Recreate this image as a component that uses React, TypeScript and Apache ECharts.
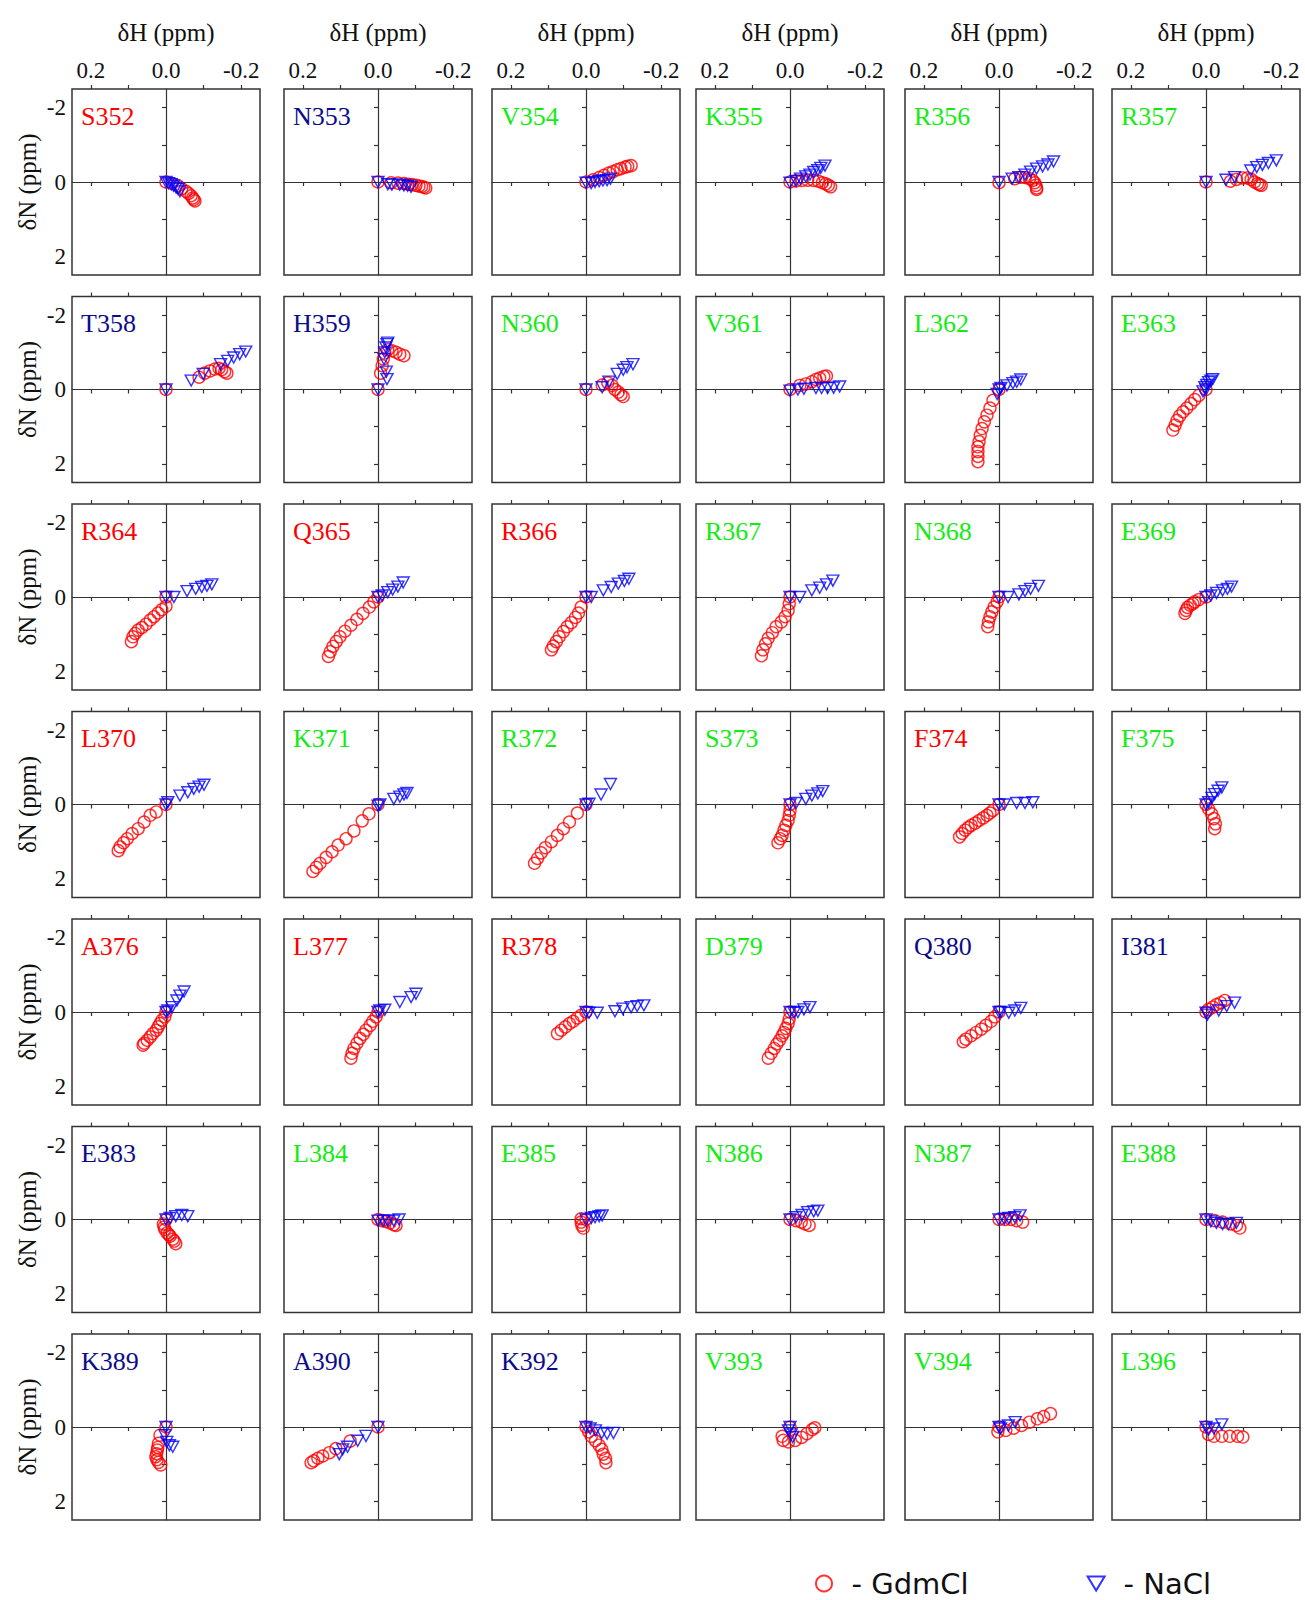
import { useEffect, useRef } from "react";
import * as echarts from "echarts";

// residues, row by row (6 per row)
const residues = [
  "S352", "N353", "V354", "K355", "R356", "R357",
  "T358", "H359", "N360", "V361", "L362", "E363",
  "R364", "Q365", "R366", "R367", "N368", "E369",
  "L370", "K371", "R372", "S373", "F374", "F375",
  "A376", "L377", "R378", "D379", "Q380", "I381",
  "E383", "L384", "E385", "N386", "N387", "E388",
  "K389", "A390", "K392", "V393", "V394", "L396",
];

// r = red, b = navy, g = green
const labelColors = [
  "r", "b", "g", "g", "g", "g",
  "b", "b", "g", "g", "g", "g",
  "r", "r", "r", "g", "g", "g",
  "r", "g", "g", "g", "r", "g",
  "r", "r", "r", "g", "b", "b",
  "b", "g", "g", "g", "g", "g",
  "b", "b", "b", "g", "g", "g",
];

// [δH, δN] in ppm, GdmCl titration
const gdmcl: number[][][] = [
  [[0, 0], [-0.016, 0.04], [-0.032, 0.1], [-0.042, 0.18], [-0.053, 0.25], [-0.06, 0.31], [-0.067, 0.37], [-0.071, 0.43], [-0.074, 0.47], [-0.077, 0.51]],
  [[0, 0], [-0.035, 0.02], [-0.053, 0.03], [-0.069, 0.04], [-0.08, 0.06], [-0.09, 0.07], [-0.101, 0.09], [-0.109, 0.11], [-0.116, 0.12], [-0.122, 0.14], [-0.127, 0.16]],
  [[0, 0], [-0.019, -0.06], [-0.035, -0.12], [-0.048, -0.18], [-0.061, -0.24], [-0.072, -0.28], [-0.083, -0.33], [-0.093, -0.36], [-0.104, -0.4], [-0.111, -0.42], [-0.12, -0.44]],
  [[0, 0], [-0.016, -0.03], [-0.032, -0.04], [-0.047, -0.05], [-0.063, -0.04], [-0.076, -0.02], [-0.086, 0.02], [-0.095, 0.05], [-0.102, 0.09], [-0.108, 0.13]],
  [[0, 0.02], [-0.042, -0.09], [-0.058, -0.13], [-0.07, -0.12], [-0.081, -0.09], [-0.09, -0.04], [-0.095, 0.02], [-0.098, 0.09], [-0.1, 0.16], [-0.1, 0.2]],
  [[0, 0], [-0.065, -0.02], [-0.081, -0.07], [-0.097, -0.11], [-0.11, -0.11], [-0.12, -0.07], [-0.129, 0], [-0.137, 0.04], [-0.142, 0.07], [-0.147, 0.09]],
  [[0, 0], [-0.088, -0.33], [-0.103, -0.44], [-0.117, -0.5], [-0.13, -0.55], [-0.141, -0.57], [-0.148, -0.53], [-0.156, -0.48], [-0.162, -0.44]],
  [[0, 0], [-0.007, -0.44], [-0.011, -0.64], [-0.014, -0.82], [-0.018, -0.98], [-0.026, -1.07], [-0.037, -1.04], [-0.048, -1], [-0.058, -0.95], [-0.069, -0.91]],
  [[0, 0], [-0.043, -0.12], [-0.058, -0.18], [-0.069, -0.11], [-0.077, 0], [-0.086, 0.07], [-0.093, 0.14], [-0.099, 0.19]],
  [[0, 0], [-0.026, -0.11], [-0.042, -0.15], [-0.058, -0.21], [-0.069, -0.27], [-0.079, -0.31], [-0.09, -0.35], [-0.097, -0.36]],
  [[0, 0], [0.016, 0.29], [0.024, 0.5], [0.032, 0.69], [0.039, 0.87], [0.045, 1.05], [0.05, 1.23], [0.053, 1.4], [0.056, 1.54], [0.056, 1.67], [0.056, 1.8], [0.056, 1.94]],
  [[0, 0], [0.019, 0.16], [0.03, 0.27], [0.04, 0.38], [0.051, 0.5], [0.061, 0.6], [0.07, 0.71], [0.077, 0.83], [0.082, 0.96], [0.088, 1.09]],
  [[0, 0], [0, 0.25], [0.011, 0.34], [0.021, 0.43], [0.032, 0.53], [0.042, 0.62], [0.053, 0.73], [0.064, 0.82], [0.074, 0.89], [0.082, 0.98], [0.088, 1.07], [0.092, 1.2]],
  [[0, 0], [0.011, 0.13], [0.023, 0.27], [0.04, 0.44], [0.056, 0.6], [0.072, 0.76], [0.088, 0.92], [0.101, 1.07], [0.111, 1.2], [0.12, 1.33], [0.127, 1.47], [0.132, 1.6]],
  [[0, 0], [0.013, 0.27], [0.02, 0.43], [0.028, 0.55], [0.039, 0.69], [0.05, 0.8], [0.06, 0.93], [0.071, 1.07], [0.079, 1.2], [0.087, 1.32], [0.092, 1.42]],
  [[0, 0], [0.002, 0.18], [0.005, 0.36], [0.013, 0.53], [0.023, 0.67], [0.037, 0.8], [0.047, 0.96], [0.058, 1.11], [0.065, 1.26], [0.072, 1.42], [0.076, 1.58]],
  [[0, 0], [0.005, 0.13], [0.013, 0.27], [0.019, 0.4], [0.024, 0.53], [0.028, 0.67], [0.03, 0.8]],
  [[0, 0], [0.019, 0.07], [0.03, 0.13], [0.035, 0.18], [0.042, 0.22], [0.049, 0.28], [0.053, 0.36], [0.056, 0.44]],
  [[0, 0], [0.026, 0.2], [0.042, 0.29], [0.058, 0.47], [0.074, 0.65], [0.09, 0.78], [0.103, 0.92], [0.113, 1.03], [0.122, 1.14], [0.127, 1.24]],
  [[0, 0], [0.024, 0.25], [0.042, 0.44], [0.064, 0.71], [0.085, 0.92], [0.106, 1.09], [0.122, 1.27], [0.138, 1.42], [0.154, 1.58], [0.164, 1.69], [0.173, 1.8]],
  [[0, 0], [0.023, 0.23], [0.044, 0.47], [0.06, 0.65], [0.076, 0.83], [0.092, 1], [0.108, 1.16], [0.119, 1.3], [0.129, 1.45], [0.137, 1.58]],
  [[0, 0], [0, 0.16], [0.002, 0.29], [0.005, 0.43], [0.011, 0.56], [0.016, 0.69], [0.021, 0.83], [0.026, 0.92], [0.032, 1.03]],
  [[0, 0], [0.016, 0.16], [0.024, 0.23], [0.032, 0.29], [0.042, 0.36], [0.053, 0.43], [0.063, 0.5], [0.074, 0.56], [0.082, 0.62], [0.09, 0.69], [0.098, 0.78], [0.105, 0.87]],
  [[0, 0], [-0.007, 0.12], [-0.015, 0.25], [-0.021, 0.38], [-0.025, 0.52], [-0.023, 0.65]],
  [[0, 0], [0.003, 0.13], [0.011, 0.22], [0.016, 0.31], [0.021, 0.4], [0.026, 0.49], [0.035, 0.58], [0.042, 0.67], [0.05, 0.76], [0.058, 0.84], [0.061, 0.89]],
  [[0, 0], [0.005, 0.13], [0.014, 0.25], [0.021, 0.36], [0.032, 0.49], [0.039, 0.6], [0.048, 0.71], [0.056, 0.84], [0.064, 0.98], [0.069, 1.11], [0.072, 1.24]],
  [[0, 0], [0.013, 0.09], [0.023, 0.16], [0.034, 0.25], [0.044, 0.31], [0.055, 0.4], [0.066, 0.49], [0.076, 0.58]],
  [[0, 0], [0.002, 0.18], [0.005, 0.31], [0.011, 0.44], [0.016, 0.55], [0.021, 0.64], [0.028, 0.76], [0.035, 0.86], [0.042, 0.98], [0.05, 1.11], [0.058, 1.24]],
  [[0, 0], [0.011, 0.13], [0.021, 0.25], [0.035, 0.36], [0.047, 0.46], [0.061, 0.55], [0.074, 0.64], [0.088, 0.73], [0.095, 0.8]],
  [[0, 0], [-0.007, -0.07], [-0.018, -0.13], [-0.028, -0.2], [-0.039, -0.25], [-0.05, -0.31]],
  [[0, 0], [0.007, 0.12], [0.005, 0.2], [0.003, 0.27], [-0.003, 0.36], [-0.008, 0.41], [-0.011, 0.45], [-0.018, 0.53], [-0.022, 0.58], [-0.026, 0.65]],
  [[0, 0], [-0.011, 0.03], [-0.021, 0.05], [-0.032, 0.09], [-0.042, 0.14], [-0.048, 0.16]],
  [[0, 0], [0.013, -0.02], [0.013, 0.07], [0.011, 0.16], [0.007, 0.23]],
  [[0, 0], [-0.016, 0.03], [-0.03, 0.07], [-0.04, 0.12], [-0.051, 0.16]],
  [[0, 0], [-0.016, 0], [-0.032, 0], [-0.047, 0.03], [-0.063, 0.07]],
  [[0, 0], [-0.023, 0.03], [-0.044, 0.07], [-0.065, 0.12], [-0.081, 0.16], [-0.09, 0.23]],
  [[0, 0], [0.016, 0.22], [0.02, 0.44], [0.022, 0.55], [0.023, 0.62], [0.025, 0.72], [0.027, 0.8], [0.024, 0.88], [0.02, 0.95], [0.014, 1.02]],
  [[0, 0], [0.074, 0.38], [0.112, 0.58], [0.129, 0.69], [0.147, 0.78], [0.16, 0.84], [0.171, 0.91], [0.178, 0.96]],
  [[0, 0], [-0.007, 0.13], [-0.014, 0.25], [-0.025, 0.37], [-0.035, 0.49], [-0.042, 0.6], [-0.046, 0.73], [-0.052, 0.84], [-0.053, 0.96]],
  [[0, 0], [0.021, 0.25], [0.018, 0.36], [0.004, 0.4], [-0.014, 0.36], [-0.031, 0.28], [-0.045, 0.18], [-0.059, 0.07], [-0.066, 0.02]],
  [[0, 0], [0.003, 0.13], [-0.018, 0.09], [-0.039, 0.03], [-0.06, -0.04], [-0.081, -0.13], [-0.102, -0.22], [-0.119, -0.28], [-0.137, -0.36]],
  [[0, 0], [-0.007, 0.2], [-0.021, 0.25], [-0.042, 0.25], [-0.063, 0.25], [-0.084, 0.25], [-0.098, 0.27]],
];

// [δH, δN] in ppm, NaCl titration
const nacl: number[][][] = [
  [[0, 0], [-0.007, 0.03], [-0.014, 0.06], [-0.02, 0.1], [-0.027, 0.15], [-0.032, 0.19], [-0.037, 0.25]],
  [[0, 0], [-0.026, 0.06], [-0.037, 0.07], [-0.058, 0.07], [-0.069, 0.09], [-0.079, 0.1], [-0.088, 0.13]],
  [[0, 0.02], [-0.014, 0.03], [-0.024, 0], [-0.035, -0.02], [-0.045, -0.04], [-0.056, -0.05], [-0.065, -0.09]],
  [[0, 0.02], [-0.016, -0.03], [-0.028, -0.09], [-0.042, -0.15], [-0.053, -0.2], [-0.063, -0.27], [-0.074, -0.32], [-0.082, -0.38], [-0.093, -0.44]],
  [[0, 0], [-0.035, -0.09], [-0.053, -0.13], [-0.069, -0.2], [-0.084, -0.28], [-0.1, -0.36], [-0.116, -0.42], [-0.13, -0.47], [-0.145, -0.55]],
  [[0, 0], [-0.053, -0.06], [-0.076, -0.13], [-0.119, -0.31], [-0.135, -0.4], [-0.15, -0.46], [-0.166, -0.51], [-0.187, -0.58]],
  [[0, 0], [-0.067, -0.24], [-0.099, -0.42], [-0.145, -0.68], [-0.164, -0.77], [-0.18, -0.86], [-0.196, -0.95], [-0.212, -1.02]],
  [[0, 0], [-0.024, -0.28], [-0.022, -0.48], [-0.016, -0.82], [-0.018, -1], [-0.021, -1.13], [-0.024, -1.22], [-0.026, -1.26]],
  [[0, 0], [-0.043, -0.06], [-0.061, -0.21], [-0.083, -0.42], [-0.099, -0.53], [-0.109, -0.6], [-0.125, -0.68]],
  [[0, 0.03], [-0.021, 0], [-0.037, -0.02], [-0.069, -0.04], [-0.084, -0.04], [-0.1, -0.04], [-0.116, -0.05], [-0.132, -0.08]],
  [[0, 0], [0.005, 0.12], [-0.005, -0.04], [-0.021, -0.11], [-0.037, -0.17], [-0.047, -0.21], [-0.058, -0.27]],
  [[0, 0], [0.008, 0.05], [0.003, -0.06], [-0.002, -0.12], [-0.007, -0.2], [-0.013, -0.24], [-0.018, -0.28]],
  [[0, 0], [-0.021, 0], [-0.056, -0.16], [-0.079, -0.22], [-0.095, -0.27], [-0.109, -0.3], [-0.122, -0.34]],
  [[0, 0], [-0.011, -0.04], [-0.026, -0.13], [-0.039, -0.2], [-0.053, -0.28], [-0.067, -0.39]],
  [[0, 0], [-0.014, 0], [-0.046, -0.18], [-0.067, -0.27], [-0.086, -0.36], [-0.102, -0.43], [-0.114, -0.49]],
  [[0, 0], [-0.026, 0], [-0.058, -0.18], [-0.079, -0.25], [-0.097, -0.34], [-0.114, -0.44]],
  [[0, 0], [-0.024, 0], [-0.053, -0.07], [-0.069, -0.16], [-0.084, -0.22], [-0.105, -0.3]],
  [[0, 0], [-0.013, -0.04], [-0.028, -0.11], [-0.044, -0.18], [-0.057, -0.22], [-0.068, -0.28]],
  [[0, 0], [-0.005, -0.06], [-0.037, -0.24], [-0.058, -0.33], [-0.074, -0.42], [-0.088, -0.48], [-0.101, -0.53]],
  [[0, 0.03], [-0.005, 0], [-0.042, -0.15], [-0.058, -0.21], [-0.069, -0.27], [-0.077, -0.31]],
  [[0, 0], [-0.008, -0.02], [-0.04, -0.27], [-0.065, -0.55]],
  [[0, 0], [-0.016, -0.04], [-0.042, -0.15], [-0.058, -0.24], [-0.074, -0.3], [-0.087, -0.36]],
  [[0, 0], [-0.014, 0], [-0.047, -0.04], [-0.069, -0.04], [-0.09, -0.06]],
  [[0, 0], [-0.007, -0.06], [-0.016, -0.18], [-0.023, -0.28], [-0.032, -0.37], [-0.042, -0.46]],
  [[0, 0], [-0.005, -0.04], [-0.016, -0.13], [-0.029, -0.31], [-0.037, -0.44], [-0.048, -0.55]],
  [[0, 0], [-0.005, -0.04], [-0.018, -0.06], [-0.058, -0.27], [-0.088, -0.4], [-0.101, -0.49]],
  [[0, 0], [-0.008, 0.02], [-0.03, 0.02], [-0.077, -0.02], [-0.098, -0.09], [-0.12, -0.13], [-0.136, -0.16], [-0.154, -0.18]],
  [[0, 0], [-0.011, 0.02], [-0.021, 0], [-0.037, -0.07], [-0.053, -0.13]],
  [[0, 0], [-0.005, 0], [-0.026, 0.02], [-0.042, -0.04], [-0.058, -0.11]],
  [[0, 0.02], [-0.004, 0.07], [-0.034, -0.04], [-0.055, -0.16], [-0.076, -0.25]],
  [[0, 0], [-0.011, -0.04], [-0.026, -0.09], [-0.042, -0.12], [-0.058, -0.09]],
  [[0, 0.03], [-0.014, 0.03], [-0.026, 0.03], [-0.042, 0.03], [-0.056, 0]],
  [[0, 0], [-0.014, -0.04], [-0.024, -0.06], [-0.035, -0.09], [-0.043, -0.11]],
  [[0, 0], [-0.016, -0.06], [-0.032, -0.12], [-0.047, -0.2], [-0.063, -0.22], [-0.074, -0.24]],
  [[0, 0], [-0.014, -0.02], [-0.026, -0.04], [-0.042, -0.06], [-0.056, -0.11]],
  [[0, 0], [-0.013, 0.05], [-0.028, 0.09], [-0.044, 0.12], [-0.06, 0.12], [-0.081, 0.09]],
  [[0, 0], [0.003, 0.22], [-0.002, 0.4], [-0.009, 0.49], [-0.018, 0.53]],
  [[0, 0], [0.032, 0.24], [0.054, 0.37], [0.081, 0.53], [0.094, 0.6], [0.103, 0.73]],
  [[0, 0], [-0.011, 0.04], [-0.025, 0.09], [-0.042, 0.16], [-0.056, 0.18], [-0.073, 0.16]],
  [[0, 0], [0.004, 0.09], [-0.003, 0.2], [-0.007, 0.27]],
  [[0, 0], [-0.004, 0.04], [-0.025, -0.04], [-0.043, -0.13]],
  [[0, 0], [-0.007, 0.07], [-0.021, 0.04], [-0.042, -0.07]],
];

const hTicks = [0.2, 0.1, -0.1, -0.2];
const hLabels = [0.2, 0, -0.2];
const nTicks = [-2, -1, 1, 2];
const nLabels = [-2, 0, 2];

const colLeft = [72, 284, 492, 696, 905, 1112];
const rowTop = [89, 296.5, 504, 711.5, 919, 1126.5, 1334];
const PANEL_W = 188;
const PANEL_H = 186;

const SERIF = "Liberation Serif";
const SANS = "DejaVu Sans";
const AXIS = "#333";
const TEXT = "#111";
const labelColor: Record<string, string> = { r: "#ff0000", b: "#0c0c8a", g: "#12ec12" };

export default function App() {
  const chartRef = useRef<HTMLDivElement>(null);

  useEffect(() => {
    document.body.style.margin = "0";
    if (!chartRef.current) return;
    const chart = echarts.init(chartRef.current, null, { renderer: "svg" });

    const grid: any[] = [];
    const xAxis: any[] = [];
    const yAxis: any[] = [];
    const title: any[] = [];
    const series: any[] = [];

    residues.forEach((name, i) => {
      const row = Math.floor(i / 6);
      const col = i % 6;
      const tickLine = { color: AXIS, width: 1.2 };

      grid.push({
        left: colLeft[col],
        top: rowTop[row],
        width: PANEL_W,
        height: PANEL_H,
        show: true,
        borderColor: AXIS,
        borderWidth: 1.5,
        backgroundColor: "transparent",
        containLabel: false,
        outerBoundsMode: "none",
      });

      // top border axis: ticks, labels on first row
      xAxis.push({
        gridIndex: i,
        type: "value",
        min: -0.25,
        max: 0.25,
        inverse: true,
        position: "top",
        axisLine: { show: false, onZero: false },
        axisTick: { show: true, length: 4, customValues: hTicks, lineStyle: tickLine },
        axisLabel: {
          show: row === 0,
          customValues: hLabels,
          formatter: (v: number) => v.toFixed(1),
          fontFamily: SERIF,
          fontSize: 23,
          color: TEXT,
          margin: 7,
        },
        splitLine: { show: false },
        name: row === 0 ? "δH (ppm)" : "",
        nameLocation: "middle",
        nameGap: 44,
        nameTextStyle: { fontFamily: SERIF, fontSize: 25, color: TEXT },
      });
      // horizontal line through δN = 0
      xAxis.push({
        gridIndex: i,
        type: "value",
        min: -0.25,
        max: 0.25,
        inverse: true,
        position: "bottom",
        axisLine: { show: true, onZero: true, lineStyle: tickLine },
        axisTick: { show: true, length: 4, customValues: hTicks, lineStyle: tickLine },
        axisLabel: { show: false },
        splitLine: { show: false },
      });

      // left border axis: labels on first column
      yAxis.push({
        gridIndex: i,
        type: "value",
        min: -2.5,
        max: 2.5,
        inverse: true,
        position: "left",
        axisLine: { show: false, onZero: false },
        axisTick: { show: false },
        axisLabel: {
          show: col === 0,
          customValues: nLabels,
          formatter: (v: number) => String(v),
          fontFamily: SERIF,
          fontSize: 23,
          color: TEXT,
          margin: 6,
        },
        splitLine: { show: false },
        name: col === 0 ? "δN (ppm)" : "",
        nameLocation: "middle",
        nameRotate: 90,
        nameGap: 32,
        nameTextStyle: { fontFamily: SERIF, fontSize: 25, color: TEXT },
      });
      // vertical line through δH = 0
      yAxis.push({
        gridIndex: i,
        type: "value",
        min: -2.5,
        max: 2.5,
        inverse: true,
        position: "left",
        axisLine: { show: true, onZero: true, lineStyle: tickLine },
        axisTick: { show: true, length: 4, customValues: nTicks, lineStyle: tickLine },
        axisLabel: { show: false },
        splitLine: { show: false },
      });

      title.push({
        text: name,
        left: colLeft[col] + 9,
        top: rowTop[row] + 14,
        padding: 0,
        textStyle: {
          fontFamily: SERIF,
          fontSize: 26,
          fontWeight: "normal",
          color: labelColor[labelColors[i]],
        },
      });

      series.push({
        type: "scatter",
        name: "GdmCl",
        xAxisIndex: 2 * i,
        yAxisIndex: 2 * i,
        data: gdmcl[i],
        symbol: "circle",
        symbolSize: 12,
        itemStyle: { color: "rgba(0,0,0,0)", borderColor: "#ff0000", borderWidth: 1.4 },
        emphasis: { disabled: true },
        silent: true,
      });
      series.push({
        type: "scatter",
        name: "NaCl",
        xAxisIndex: 2 * i,
        yAxisIndex: 2 * i,
        data: nacl[i],
        symbol: "triangle",
        symbolRotate: 180,
        symbolSize: [12, 11],
        itemStyle: { color: "rgba(0,0,0,0)", borderColor: "#0000ff", borderWidth: 1.4 },
        emphasis: { disabled: true },
        silent: true,
      });
    });

    chart.setOption({
      animation: false,
      backgroundColor: "#fff",
      title,
      grid,
      xAxis,
      yAxis,
      series,
      legend: {
        data: [
          { name: "GdmCl", icon: "circle" },
          { name: "NaCl", icon: "path://M0,0L12,0L6,10Z" },
        ],
        left: 815,
        top: 1569,
        padding: 0,
        itemWidth: 17,
        itemHeight: 16,
        itemGap: 118,
        selectedMode: false,
        formatter: (n: string) => "- " + n,
        textStyle: { fontFamily: SANS, fontSize: 29, color: TEXT, padding: [0, 0, 0, 14] },
      },
    });

    return () => {
      chart.dispose();
    };
  }, []);

  return <div ref={chartRef} style={{ width: 1305, height: 1600 }} />;
}
